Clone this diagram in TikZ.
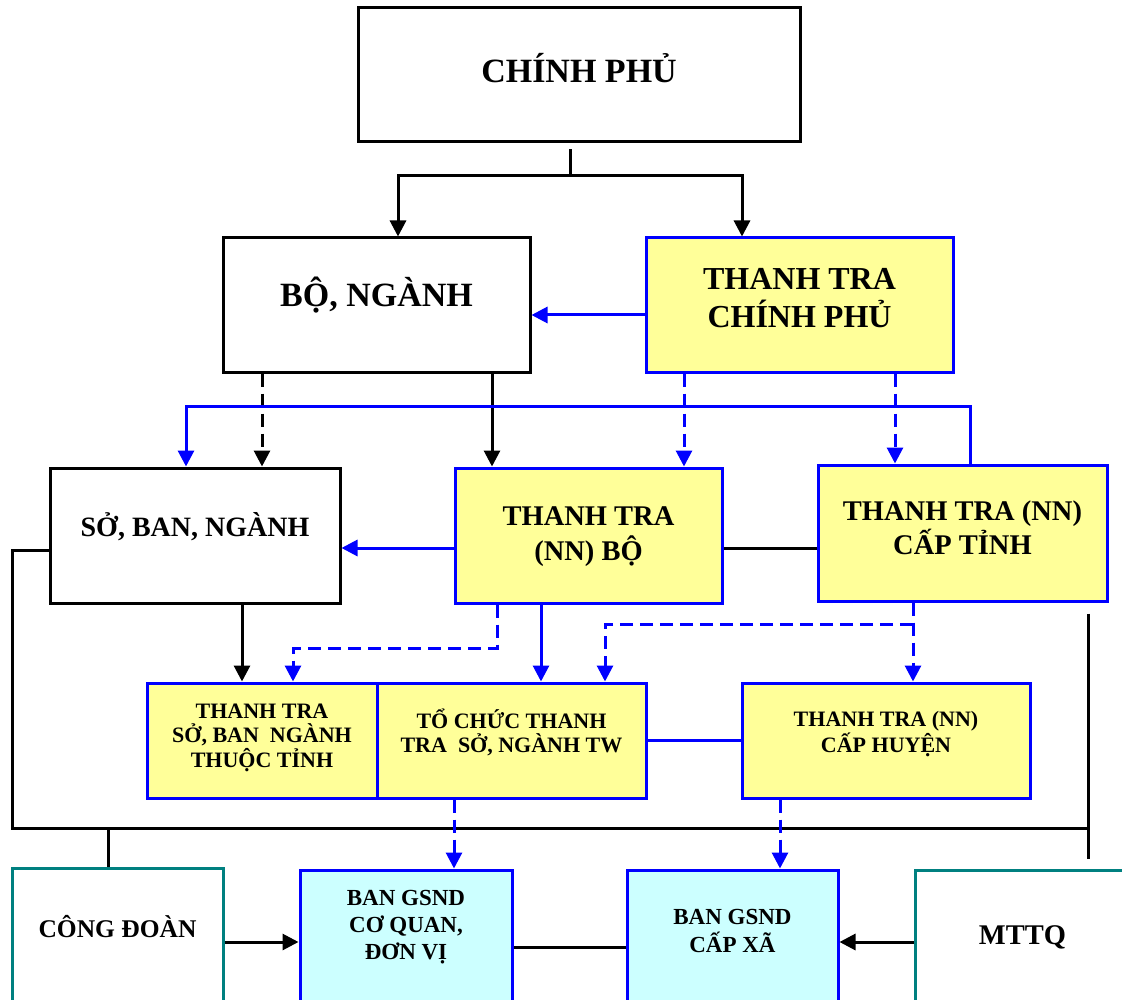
\documentclass[tikz,border=0pt]{standalone}
\usepackage{fontspec}
\setmainfont{Liberation Serif}
\usetikzlibrary{arrows.meta}
\definecolor{ttyellow}{HTML}{FFFF99}
\definecolor{gscyan}{HTML}{CCFFFF}
\definecolor{tealb}{HTML}{008080}
\definecolor{pblue}{HTML}{0000FF}
\begin{document}
\begin{tikzpicture}[x=1pt,y=-1pt,
 box/.style={draw=black, line width=3pt, fill=white, inner sep=0pt, align=center},
 bbox/.style={box, draw=pblue, fill=ttyellow},
 cbox/.style={box, draw=pblue, fill=gscyan},
 tbox/.style={box, draw=tealb},
 sz/.style 2 args={minimum width=#1pt, minimum height=#2pt},
 fs/.style 2 args={font=\bfseries\fontsize{#1}{#2}\selectfont},
 blk/.style={draw=black, line width=3pt},
 blu/.style={draw=pblue, line width=3pt},
 dsh/.style={dash pattern=on 13pt off 7pt},
 arr/.style={-{Triangle[length=16pt,width=16pt]}},
]
\useasboundingbox (0,0) rectangle (1122,1000);

% boxes
\node[box, fs={34}{40}, sz={442}{134}, text height=16pt, text depth=0pt] (cp) at (579,75) {CHÍNH PHỦ};
\node[box, fs={34}{40}, sz={307}{134}, text height=4pt, text depth=0pt] (bo) at (376.5,305) {BỘ, NGÀNH};
\node[bbox, fs={32}{38}, sz={307}{134}, text height=46pt, text depth=0pt] (ttcp) at (799.5,305) {THANH TRA\\CHÍNH PHỦ};
\node[box, fs={28}{34}, sz={290}{135}, text height=1pt, text depth=0pt] (so) at (195,535.5) {SỞ, BAN, NGÀNH};
\node[bbox, fs={28.5}{35}, sz={267}{135}, text height=49pt, text depth=0pt] (ttbo) at (588.5,535.5) {THANH TRA\\(NN) BỘ};
\node[bbox, fs={28.5}{34}, sz={289}{136}, text height=42pt, text depth=0pt] (tttinh) at (962.5,533) {THANH TRA (NN)\\CẤP TỈNH};
\node[bbox, fs={22}{24.5}, sz={230}{115}, text height=53pt, text depth=0pt] (ttso) at (262,740.5) {THANH TRA\\SỞ, BAN~ NGÀNH\\THUỘC TỈNH};
\node[bbox, fs={22}{24}, sz={269}{115}, text height=23pt, text depth=0pt] (tochuc) at (511.5,740.5) {TỔ CHỨC THANH\\TRA~ SỞ, NGÀNH TW};
\node[bbox, fs={22}{24}, sz={288}{115}, text height=23pt, text depth=0pt] (tthuyen) at (886,740.5) {THANH TRA (NN)\\CẤP HUYỆN};
\node[tbox, fs={25.5}{30}, sz={211}{136}, text height=2pt, text depth=0pt] (congdoan) at (117.5,936) {CÔNG ĐOÀN};
\node[cbox, fs={23}{27}, sz={212}{134}, text height=44pt, text depth=0pt] (bancq) at (406,937) {BAN GSND\\CƠ QUAN,\\ĐƠN VỊ};
\node[cbox, fs={23}{28}, sz={211}{134}, text height=30pt, text depth=0pt] (banxa) at (732.5,937) {BAN GSND\\CẤP XÃ};
\node[tbox, fs={28.5}{34}, sz={215}{134}, text height=14pt, text depth=0pt] (mttq) at (1022.5,937) {MTTQ};

% joints
\coordinate (j1) at (570,176);
\coordinate (b1) at (186,406);
\coordinate (d1) at (293,648);
\coordinate (d2) at (913,624);
\coordinate (busl) at (12,828);
\coordinate (busr) at (1088,828);
\coordinate (cdj) at (108,828);

% connectors
\draw[blk] ([xshift=-9pt,yshift=-6pt]cp.south) -- (j1);
\draw[blk,arr] (j1) -| ([xshift=21.5pt]bo.north);
\draw[blk,arr] (j1) -| ([xshift=-57.5pt]ttcp.north);
\draw[blu,arr] ([yshift=-10pt]ttcp.west) -- ([yshift=-10pt]bo.east);
\draw[blk,dsh,arr] ([xshift=-114.5pt]bo.south) -- ([xshift=67pt]so.north);
\draw[blk,arr] ([xshift=115.5pt]bo.south) -- ([xshift=-96.5pt]ttbo.north);
\draw[blu,dsh,arr] ([xshift=-115.5pt]ttcp.south) -- ([xshift=95.5pt]ttbo.north);
\draw[blu,dsh,arr] ([xshift=95.5pt]ttcp.south) -- ([xshift=-67.5pt]tttinh.north);
\draw[blu,arr] ([xshift=7.5pt]tttinh.north) |- (b1) -- ([xshift=-9pt]so.north);
\draw[blu,arr] ([yshift=-12.5pt]ttbo.west) -- ([yshift=-12.5pt]so.east);
\draw[blk] ([yshift=-12.5pt]ttbo.east) -- ([yshift=-15pt]tttinh.west);
\draw[blk] ([yshift=-14.5pt]so.west) -| (busl) -- (busr);
\draw[blk] ([xshift=-20.5pt,yshift=-11pt]tttinh.south east) -- ([xshift=65.5pt,yshift=10pt]mttq.north);
\draw[blk] (cdj) -- ([xshift=-9.5pt]congdoan.north);
\draw[blk,arr] ([xshift=47pt]so.south) -- ([xshift=-20pt]ttso.north);
\draw[blu,dsh,arr] ([xshift=-91.5pt]ttbo.south) |- (d1) -- ([xshift=31pt]ttso.north);
\draw[blu,arr] ([xshift=-47.5pt]ttbo.south) -- ([xshift=29.5pt]tochuc.north);
\draw[blu,dsh,arr] ([xshift=-49.5pt]tttinh.south) -- ([xshift=27pt]tthuyen.north);
\draw[blu,dsh,arr] (d2) -| ([xshift=93.5pt]tochuc.north);
\draw[blu] (tochuc.east) -- (tthuyen.west);
\draw[blu,dsh,arr] ([xshift=-57.5pt]tochuc.south) -- ([xshift=48pt]bancq.north);
\draw[blu,dsh,arr] ([xshift=-106pt]tthuyen.south) -- ([xshift=47.5pt]banxa.north);
\draw[blk,arr] ([yshift=-6pt]congdoan.east) -- ([yshift=-5pt]bancq.west);
\draw[blk] ([yshift=-10pt]bancq.east) -- ([yshift=-10pt]banxa.west);
\draw[blk,arr] ([yshift=-5pt]mttq.west) -- ([yshift=-5pt]banxa.east);
\end{tikzpicture}
\end{document}
